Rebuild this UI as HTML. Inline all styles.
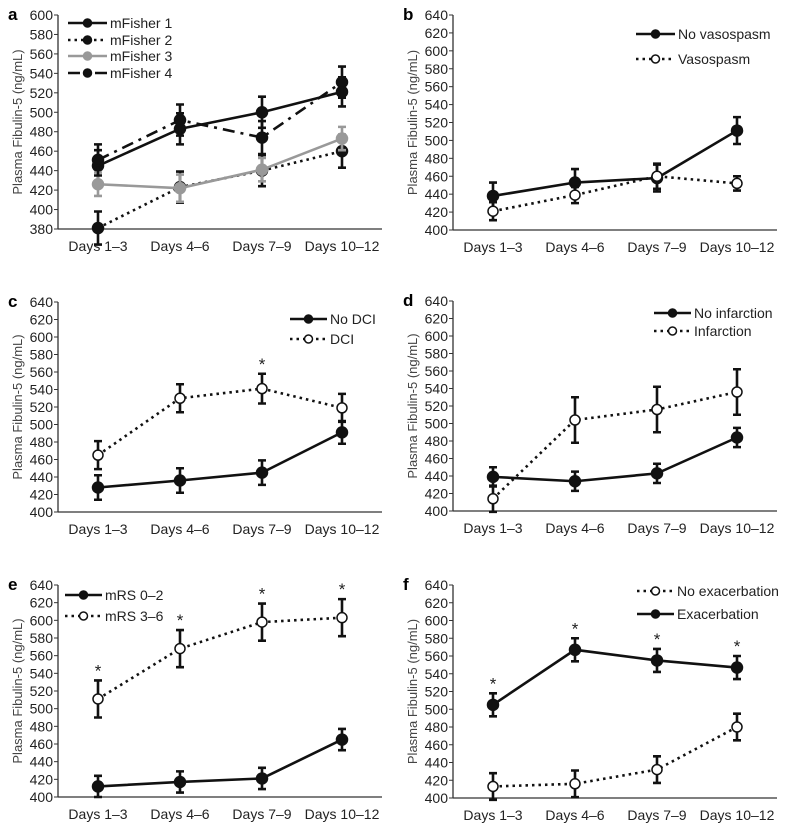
<!DOCTYPE html>
<html><head><meta charset="utf-8"><style>
body{margin:0;background:#fff}
svg{display:block;font-family:"Liberation Sans",Arial,sans-serif}
</style></head><body>
<svg id="fig" width="789" height="830" viewBox="0 0 789 830" xmlns="http://www.w3.org/2000/svg"></svg>
<script>
const categories = ["Days 1\u20133","Days 4\u20136","Days 7\u20139","Days 10\u201312"];
// panel a
const aS1 = [445,483,500,521], aE1 = [16,16,16,15];
const aS2 = [381,423,440,460], aE2 = [17,16,16,17];
const aS3 = [426,422,441,473], aE3 = [12,14,12,12];
const aS4 = [451,492,474,531], aE4 = [16,16,17,16];
const aTicks = [380,400,420,440,460,480,500,520,540,560,580,600];
// panel b
const bS1 = [438,453,458,511], bE1 = [15,15,15,15];
const bS2 = [421,439,460,452], bE2 = [10,9,14,8];
// panel c
const cS1 = [428,436,445,491], cE1 = [14,14,14,13];
const cS2 = [465,530,541,519], cE2 = [16,16,17,16];
// panel d
const dS1 = [439,434,443,484], dE1 = [11,11,11,11];
const dS2 = [414,504,516,536], dE2 = [15,26,26,26];
// panel e
const eS1 = [412,417,421,465], eE1 = [12,12,12,12];
const eS2 = [511,568,598,603], eE2 = [21,21,21,21];
// panel f
const fS1 = [413,416,432,480], fE1 = [15,15,15,15];
const fS2 = [505,567,555,547], fE2 = [13,13,13,13];
const stdTicks = [400,420,440,460,480,500,520,540,560,580,600,620,640];

const NS="http://www.w3.org/2000/svg";
const svg=document.getElementById('fig');
function mk(tag,attrs,parent,text){const e=document.createElementNS(NS,tag);for(const k in attrs)e.setAttribute(k,attrs[k]);if(text!==undefined)e.textContent=text;(parent||svg).appendChild(e);return e;}
const catX=[98,180,262,342];

function panel(P){
  const g=mk('g',{});
  
  
  const ox=P.ox, ax=ox+58;
  const ys=v=>P.yb-(v-P.ticks[0])/(P.ticks[P.ticks.length-1]-P.ticks[0])*(P.yb-P.yt);
  const xs=i=>ox+catX[i];
  const t=mk('text',{x:ox+8,y:P.yt+5,'font-size':17,'font-weight':'bold',fill:'#000'},g,P.letter);
  
  const axl=mk('line',{x1:ax,y1:P.yt,x2:ax,y2:P.yb,stroke:'#333','stroke-width':1.3},g);
  
  const bx=mk('line',{x1:ax,y1:P.yb,x2:ox+382,y2:P.yb,stroke:'#333','stroke-width':1.3},g);
  
  P.ticks.forEach(v=>{
    mk('line',{x1:ax-4,y1:ys(v),x2:ax,y2:ys(v),stroke:'#333'},g);
    const tl=mk('text',{x:ax-5,y:ys(v)+5,'font-size':14,'text-anchor':'end',fill:'#222'},g,v);
    
  });
  categories.forEach((c,i)=>{
    const tl=mk('text',{x:xs(i),y:P.yb+22,'font-size':14,'text-anchor':'middle',fill:'#222'},g,c);
    
  });
  const yt=mk('text',{x:0,y:0,'font-size':13,'text-anchor':'middle',fill:'#444',transform:`translate(${ox+22},${(P.yt+P.yb)/2}) rotate(-90)`},g,'Plasma Fibulin-5 (ng/mL)');
  
  P.series.forEach(s=>{
    const dash=s.style==='dot'?'2.5,4':s.style==='dashdot'?'12,6,3,6':null;
    const pts=s.vals.map((v,i)=>xs(i)+','+ys(v)).join(' ');
    const l=mk('polyline',{points:pts,fill:'none',stroke:s.color,'stroke-width':2.6},g);
    if(dash)l.setAttribute('stroke-dasharray',dash);
    
    s.vals.forEach((v,i)=>{
      const e=s.err[i],x=xs(i);
      const eb=mk('path',{d:`M${x},${ys(v-e)}V${ys(v+e)}M${x-4},${ys(v-e)}H${x+4}M${x-4},${ys(v+e)}H${x+4}`,stroke:s.color,'stroke-width':2.6,fill:'none'},g);
      
      const m=mk('circle',{cx:x,cy:ys(v),r:s.open?5:5.5,fill:s.open?'#fff':s.color,stroke:s.color,'stroke-width':1.5},g);
      
      if(s.stars&&s.stars[i]){
        const st=mk('text',{x:x,y:ys(v+e)-4,'font-size':17,'text-anchor':'middle',fill:'#222'},g,'*');
        
      }
    });
  });
  P.legend.forEach((L,k)=>{
    const s=P.series[L.s], y=L.y;
    const dash=s.style==='dot'?'2.5,4':s.style==='dashdot'?'12,6,3,6':null;
    const ll=mk('line',{x1:L.x1,y1:y,x2:L.x2,y2:y,stroke:s.color,'stroke-width':2.6},g);
    if(dash)ll.setAttribute('stroke-dasharray',dash);
    
    const mc=mk('circle',{cx:(L.x1+L.x2)/2,cy:y,r:4,fill:s.open?'#fff':s.color,stroke:s.color,'stroke-width':1.5},g);
    
    const lt=mk('text',{x:L.x2+3,y:y+5,'font-size':14,fill:'#222'},g,s.name);
    
  });
}
const blk='#111', gry='#999';
panel({letter:'a',ox:0,yt:15,yb:229,ticks:aTicks,series:[
 {name:'mFisher 1',vals:aS1,err:aE1,color:blk,style:'solid'},
 {name:'mFisher 2',vals:aS2,err:aE2,color:blk,style:'dot'},
 {name:'mFisher 3',vals:aS3,err:aE3,color:gry,style:'solid'},
 {name:'mFisher 4',vals:aS4,err:aE4,color:blk,style:'dashdot'}],
 legend:[{s:0,x1:68,x2:107,y:23},{s:1,x1:68,x2:107,y:40},{s:2,x1:68,x2:107,y:56},{s:3,x1:68,x2:107,y:73}]});
panel({letter:'b',ox:395,yt:15,yb:230,ticks:stdTicks,series:[
 {name:'No vasospasm',vals:bS1,err:bE1,color:blk,style:'solid'},
 {name:'Vasospasm',vals:bS2,err:bE2,color:blk,style:'dot',open:true}],
 legend:[{s:0,x1:636,x2:675,y:34},{s:1,x1:636,x2:675,y:59}]});
panel({letter:'c',ox:0,yt:302,yb:512,ticks:stdTicks,series:[
 {name:'No DCI',vals:cS1,err:cE1,color:blk,style:'solid'},
 {name:'DCI',vals:cS2,err:cE2,color:blk,style:'dot',open:true,stars:[0,0,1,0]}],
 legend:[{s:0,x1:290,x2:327,y:319},{s:1,x1:290,x2:327,y:339}]});
panel({letter:'d',ox:395,yt:301,yb:511,ticks:stdTicks,series:[
 {name:'No infarction',vals:dS1,err:dE1,color:blk,style:'solid'},
 {name:'Infarction',vals:dS2,err:dE2,color:blk,style:'dot',open:true}],
 legend:[{s:0,x1:654,x2:691,y:313},{s:1,x1:654,x2:691,y:331}]});
panel({letter:'e',ox:0,yt:585,yb:797,ticks:stdTicks,series:[
 {name:'mRS 0\u20132',vals:eS1,err:eE1,color:blk,style:'solid'},
 {name:'mRS 3\u20136',vals:eS2,err:eE2,color:blk,style:'dot',open:true,stars:[1,1,1,1]}],
 legend:[{s:0,x1:65,x2:102,y:595},{s:1,x1:65,x2:102,y:616}]});
panel({letter:'f',ox:395,yt:585,yb:798,ticks:stdTicks,series:[
 {name:'No exacerbation',vals:fS1,err:fE1,color:blk,style:'dot',open:true},
 {name:'Exacerbation',vals:fS2,err:fE2,color:blk,style:'solid',stars:[1,1,1,1]}],
 legend:[{s:0,x1:637,x2:674,y:591},{s:1,x1:637,x2:674,y:614}]});
</script>
</body></html>
